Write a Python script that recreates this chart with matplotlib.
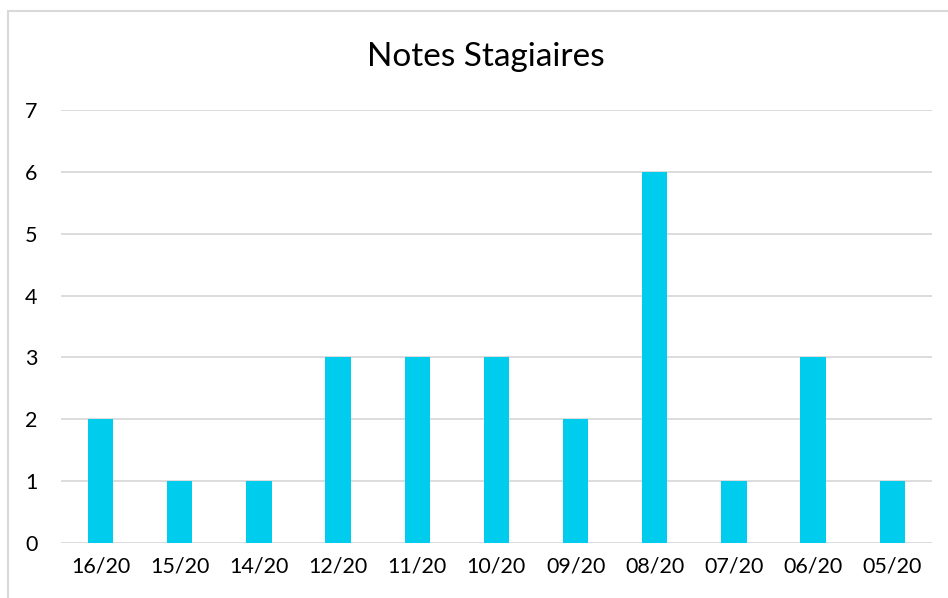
import matplotlib.pyplot as plt
from matplotlib.patches import Rectangle

# Données
notes = ["16/20", "15/20", "14/20", "12/20", "11/20", "10/20",
         "09/20", "08/20", "07/20", "06/20", "05/20"]
effectifs = [2, 1, 1, 3, 3, 3, 2, 6, 1, 3, 1]
yticks = [0, 1, 2, 3, 4, 5, 6, 7]

plt.rcParams['font.family'] = ['Lato', 'DejaVu Sans']

fig = plt.figure(figsize=(9.48, 5.98), dpi=100)
ax = fig.add_axes([0.0643, 0.092, 0.9187, 0.724])

# Cadre du graphique
fig.patches.append(Rectangle((8 / 948, -0.1), 1.1, 1 - 11 / 598 + 0.1,
                             transform=fig.transFigure, fill=False,
                             edgecolor='#d9d9d9', linewidth=1.5))

x = range(len(notes))
ax.bar(x, effectifs, width=0.32, color='#00ccee', zorder=3)

ax.set_xlim(-0.5, len(notes) - 0.5)
ax.set_ylim(0, 7)
ax.set_yticks(yticks)
ax.set_xticks(list(x))
ax.set_xticklabels(notes)
ax.grid(axis='y', color='#d9d9d9', linewidth=1.3, zorder=0)
ax.tick_params(axis='both', length=0, labelsize=15.5, colors='black')
ax.tick_params(axis='x', pad=10)
ax.tick_params(axis='y', pad=17)
for s in ax.spines.values():
    s.set_visible(False)

fig.text(0.512, 1 - 57 / 598, 'Notes Stagiaires', ha='center', va='center', fontsize=24)

fig.savefig('out.png', dpi=100)
